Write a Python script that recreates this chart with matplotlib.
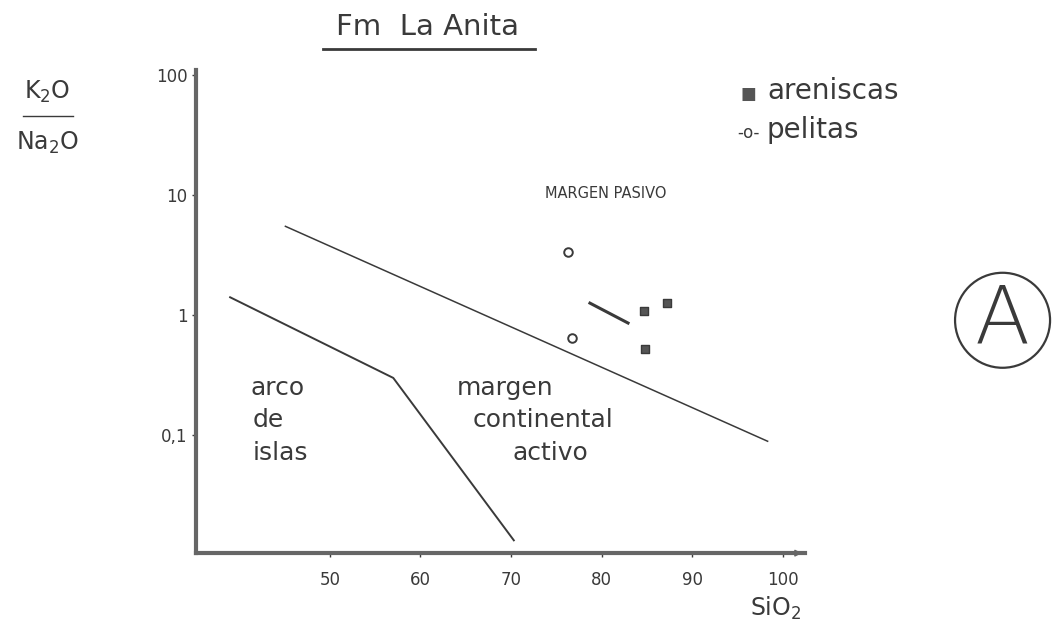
# Diagrama K2O/Na2O vs SiO2 - Fm La Anita

import matplotlib.pyplot as plt
from matplotlib.patches import Ellipse

# datos
areniscas_sio2 = [84.7, 87.2, 84.8]
areniscas_ratio = [1.08, 1.26, 0.52]
pelitas_sio2 = [76.3, 76.7]
pelitas_ratio = [3.35, 0.65]

# limites de campos
limite_pasivo_x = [45.1, 98.3]
limite_pasivo_y = [5.5, 0.089]
limite_arco_x = [39.0, 57.0, 70.3]
limite_arco_y = [1.41, 0.30, 0.0133]
segmento_x = [78.7, 82.9]
segmento_y = [1.26, 0.86]

xticks = [50, 60, 70, 80, 90, 100]
yticks = [100, 10, 1, 0.1]
ytick_labels = ["100", "10", "1", "0,1"]

tinta = "#3a3a3a"
plt.rcParams["font.family"] = "DejaVu Sans"

fig = plt.figure(figsize=(10.52, 6.38), dpi=100)
ax = fig.add_axes([0.186, 0.133, 0.579, 0.757])
ax.set_yscale("log")
ax.set_xlim(35.2, 102.4)
ax.set_ylim(0.0104, 110)

ax.plot(limite_pasivo_x, limite_pasivo_y, color=tinta, lw=1.1)
ax.plot(limite_arco_x, limite_arco_y, color=tinta, lw=1.4)
ax.plot(segmento_x, segmento_y, color=tinta, lw=2.2)

ax.scatter(areniscas_sio2, areniscas_ratio, marker="s", s=30, color="#555555",
           edgecolor=tinta, zorder=3)
ax.scatter(pelitas_sio2, pelitas_ratio, marker="o", s=38, facecolor="white",
           edgecolor=tinta, linewidth=1.4, zorder=3)

for side in ["top", "right"]:
    ax.spines[side].set_visible(False)
for side in ["left", "bottom"]:
    ax.spines[side].set_linewidth(3)
    ax.spines[side].set_color("#666666")
ax.annotate("", xy=(1.0, 0), xytext=(0.985, 0), xycoords="axes fraction",
            arrowprops=dict(arrowstyle="-|>", color="#666666", lw=1))

ax.set_xticks(xticks)
ax.set_xticklabels([str(t) for t in xticks])
ax.set_yticks(yticks)
ax.set_yticklabels(ytick_labels)
ax.minorticks_off()
ax.tick_params(axis="both", length=3, width=1, color=tinta, labelcolor=tinta,
               labelsize=12)
ax.tick_params(axis="x", pad=10)
ax.tick_params(axis="y", pad=3)

# textos de campos
ax.text(73.7, 9.5, "MARGEN PASIVO", fontsize=10.5, color=tinta, ha="left")
campo = dict(fontsize=18, color=tinta)
fig.text(0.238, 0.381, "arco", ha="left", **campo)
fig.text(0.240, 0.331, "de", ha="left", **campo)
fig.text(0.240, 0.279, "islas", ha="left", **campo)
fig.text(0.480, 0.381, "margen", ha="center", **campo)
fig.text(0.516, 0.331, "continental", ha="center", **campo)
fig.text(0.523, 0.279, "activo", ha="center", **campo)

# titulo y ejes
fig.text(0.406, 0.945, "Fm  La Anita", fontsize=21, color=tinta, ha="center")
fig.add_artist(plt.Line2D([0.307, 0.509], [0.923, 0.923], color=tinta, lw=2))
fig.text(0.045, 0.845, "K$_2$O", fontsize=17, color=tinta, ha="center")
fig.add_artist(plt.Line2D([0.022, 0.069], [0.818, 0.818], color=tinta, lw=1))
fig.text(0.045, 0.765, "Na$_2$O", fontsize=17, color=tinta, ha="center")
fig.text(0.737, 0.035, "SiO$_2$", fontsize=17, color=tinta, ha="center")

# leyenda
fig.text(0.711, 0.845, "\u25a0", fontsize=12, color="#555555", ha="center")
fig.text(0.729, 0.845, "areniscas", fontsize=20, color=tinta, ha="left")
fig.text(0.711, 0.784, "-o-", fontsize=12, color=tinta, ha="center")
fig.text(0.729, 0.784, "pelitas", fontsize=20, color=tinta, ha="left")

# circulo A
fig.add_artist(Ellipse((0.953, 0.498), 95 / 1052, 95 / 638,
                       transform=fig.transFigure, fill=False,
                       edgecolor=tinta, lw=1.6))
fig.text(0.953, 0.498, "A", fontsize=58, color=tinta, ha="center", va="center",
         family="DejaVu Sans", fontweight=200)

fig.savefig("out.png", dpi=100)
